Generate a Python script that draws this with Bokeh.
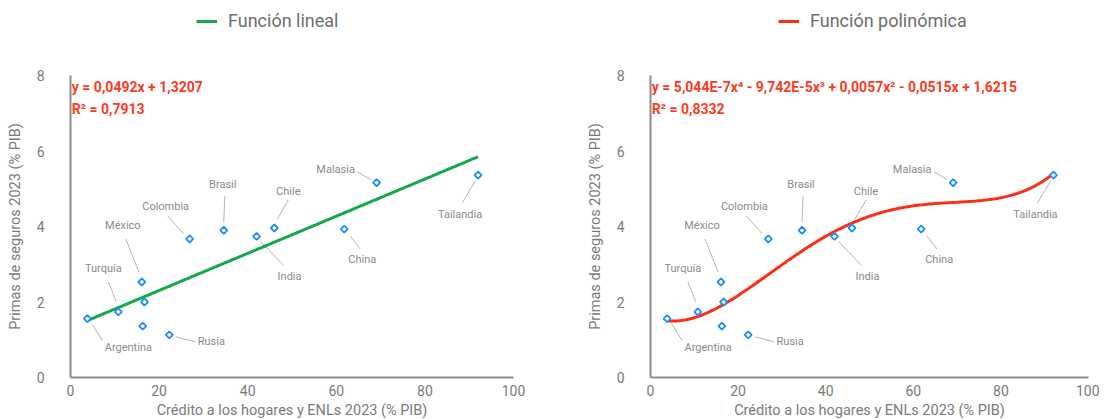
import numpy as np
from bokeh.plotting import figure
from bokeh.layouts import row, column
from bokeh.models import Range1d, Label, Legend, LegendItem, FixedTicker
from bokeh.embed import file_html
from bokeh.resources import INLINE
from bokeh.core.properties import value

# ---------------- data ----------------
countries = ["Argentina", "Turquía", "México", "", "", "Rusia", "Colombia",
             "Brasil", "India", "Chile", "China", "Malasia", "Tailandia"]
credit = [3.8, 10.8, 16.1, 16.7, 16.3, 22.3, 26.9, 34.6, 42.0, 46.0, 61.8, 69.1, 92.0]
premiums = [1.56, 1.74, 2.53, 2.00, 1.36, 1.13, 3.67, 3.90, 3.74, 3.96, 3.93, 5.16, 5.36]
x_ticks = [0, 20, 40, 60, 80, 100]
y_ticks = [0, 2, 4, 6, 8]
linear_coef = [0.0492, 1.3207]
poly_coef = [5.044e-7, -9.742e-5, 0.0057, -0.0515, 1.6215]
eq_linear = ["y = 0,0492x + 1,3207", "R² = 0,7913"]
eq_poly = ["y = 5,044E-7x⁴ - 9,742E-5x³ + 0,0057x² - 0,0515x + 1,6215", "R² = 0,8332"]
legend_labels = ["Función lineal", "Función polinómica"]
x_title = "Crédito a los hogares y ENLs 2023 (% PIB)"
y_title = "Primas de seguros 2023 (% PIB)"

# ---------------- layout / style ----------------
FONT = "Roboto"
FW1 = 443         # frame width, left panel (x 0..100)
FW2 = 438         # frame width, right panel
FH = 302          # frame height (y 0..8)
PXY = FH / 8.0
LEG_H = 67        # height of the legend strip
GRAY_TXT = "#7a7a7a"
LBL_TXT = "#8a8a8a"
LEADER = "#b5b5b5"
BLUE = "#1a8fff"
GREEN = "#14a84b"
RED = "#ff2d16"
EQ_RED = "#ff3a1e"

P1_LEFT, P1_RIGHT = 70, 70
P2_LEFT, P2_RIGHT = 64, 11

# label offsets in px (dx, dy; dy positive = down) and leader segments in px
label_off = {
    "Argentina": (41, 29), "Turquía": (-15, -43), "México": (-19, -56),
    "Colombia": (-24, -32), "Brasil": (-1, -46), "Chile": (14, -37),
    "India": (33, 40), "Rusia": (42, 7), "Malasia": (-41, -13),
    "China": (18, 30), "Tailandia": (-18, 39),
}
leader_off = {
    "Argentina": (5, 6, 15, 22), "Turquía": (-10, -30, -2, -10),
    "México": (-16, -43, -3, -10), "Colombia": (-22, -23, -6, -5),
    "Brasil": (1, -34, 0, -8), "Chile": (14, -28, 3, -9),
    "India": (4, 5, 27, 29), "Rusia": (7, 2, 26, 7),
    "Malasia": (-19, -11, -6, -3), "China": (6, 7, 16, 20),
    "Tailandia": (-3, 6, -16, 28),
}


def make_panel(kind, fw, border_left, border_right):
    p = figure(frame_width=fw, frame_height=FH, output_backend="svg",
               toolbar_location=None, x_range=Range1d(0, 100), y_range=Range1d(0, 8),
               min_border_left=border_left, min_border_right=border_right,
               min_border_top=8, min_border_bottom=42)
    p.outline_line_color = None
    p.grid.grid_line_color = None
    p.background_fill_color = "white"
    p.border_fill_color = "white"

    for ax in (p.xaxis[0], p.yaxis[0]):
        ax.axis_line_color = "#8c8c8c"
        ax.axis_line_width = 2
        ax.major_tick_line_color = None
        ax.minor_tick_line_color = None
        ax.major_tick_in = 0
        ax.major_tick_out = 0
        ax.minor_tick_in = 0
        ax.minor_tick_out = 0
        ax.major_label_text_font = FONT
        ax.major_label_text_font_size = "14px"
        ax.major_label_text_color = GRAY_TXT
        ax.axis_label_text_font = FONT
        ax.axis_label_text_font_size = "14.5px"
        ax.axis_label_text_font_style = "normal"
        ax.axis_label_text_color = GRAY_TXT
    p.xaxis.ticker = FixedTicker(ticks=x_ticks)
    p.yaxis.ticker = FixedTicker(ticks=y_ticks)
    p.xaxis.axis_label = x_title
    p.yaxis.axis_label = y_title
    p.xaxis.major_label_standoff = 7
    p.xaxis.axis_label_standoff = 3
    p.yaxis.major_label_standoff = 26
    p.yaxis.axis_label_standoff = 10

    # trend line
    xs = np.linspace(min(credit), max(credit), 200)
    if kind == "lin":
        ys = np.polyval(linear_coef, xs)
        color, eq = GREEN, eq_linear
    else:
        ys = np.polyval(poly_coef, xs)
        color, eq = RED, eq_poly

    # leader lines
    pxx = fw / 100.0
    x0, y0, x1, y1 = [], [], [], []
    for c, xv, yv in zip(countries, credit, premiums):
        if c in leader_off:
            a, b, cc, d = leader_off[c]
            x0.append(xv + a / pxx); y0.append(yv - b / PXY)
            x1.append(xv + cc / pxx); y1.append(yv - d / PXY)
    p.segment(x0=x0, y0=y0, x1=x1, y1=y1, line_color=LEADER, line_width=1)

    p.line(xs, ys, line_color=color, line_width=3)

    p.scatter(credit, premiums, marker="square", size=5, angle=np.pi / 4,
              line_color=BLUE, line_width=1.8, fill_color="white")

    dxs = [label_off.get(c, (0, 0))[0] for c in countries]
    dys = [label_off.get(c, (0, 0))[1] for c in countries]
    p.text(x=credit, y=premiums, text=countries, x_offset=dxs, y_offset=dys,
           text_font=value(FONT), text_font_size="11px", text_color=LBL_TXT,
           text_align="center", text_baseline="middle")

    p.add_layout(Label(x=0.3, y=8 - 11 / PXY, text=eq[0], text_font=FONT, text_font_size="14px",
                       text_font_style="bold", text_color=EQ_RED, text_baseline="middle"))
    p.add_layout(Label(x=0.3, y=8 - 33 / PXY, text=eq[1], text_font=FONT, text_font_size="14px",
                       text_font_style="bold", text_color=EQ_RED, text_baseline="middle"))
    return p


p1 = make_panel("lin", FW1, P1_LEFT, P1_RIGHT)
p2 = make_panel("poly", FW2, P2_LEFT, P2_RIGHT)
W1 = P1_LEFT + FW1 + P1_RIGHT
W2 = P2_LEFT + FW2 + P2_RIGHT

# legend strip above the two panels
lf = figure(frame_width=W1 + W2, frame_height=LEG_H, output_backend="svg",
            toolbar_location=None, x_axis_location=None, y_axis_location=None,
            x_range=Range1d(0, 1), y_range=Range1d(0, 1),
            min_border_left=0, min_border_right=0, min_border_top=0, min_border_bottom=0)
lf.outline_line_color = None
lf.grid.grid_line_color = None
# legend-only renderers, kept outside the visible range
r_lin = lf.line([5, 6], [5, 6], line_color=GREEN, line_width=3)
r_pol = lf.line([5, 6], [5, 6], line_color=RED, line_width=3)
for lab, rend, lx in ((legend_labels[0], r_lin, P1_LEFT + 126),
                      (legend_labels[1], r_pol, W1 + P2_LEFT + 131)):
    leg = Legend(items=[LegendItem(label=lab, renderers=[rend])], location=(lx, LEG_H - 31),
                 label_text_font=FONT, label_text_font_size="18px", label_text_color="#6e6e6e",
                 glyph_width=21, glyph_height=20, label_height=20, label_standoff=11,
                 padding=0, margin=0, border_line_color=None, background_fill_alpha=0)
    lf.add_layout(leg, "center")

layout = column(lf, row(p1, p2))

open("out.html", "w").write(file_html(layout, INLINE))
